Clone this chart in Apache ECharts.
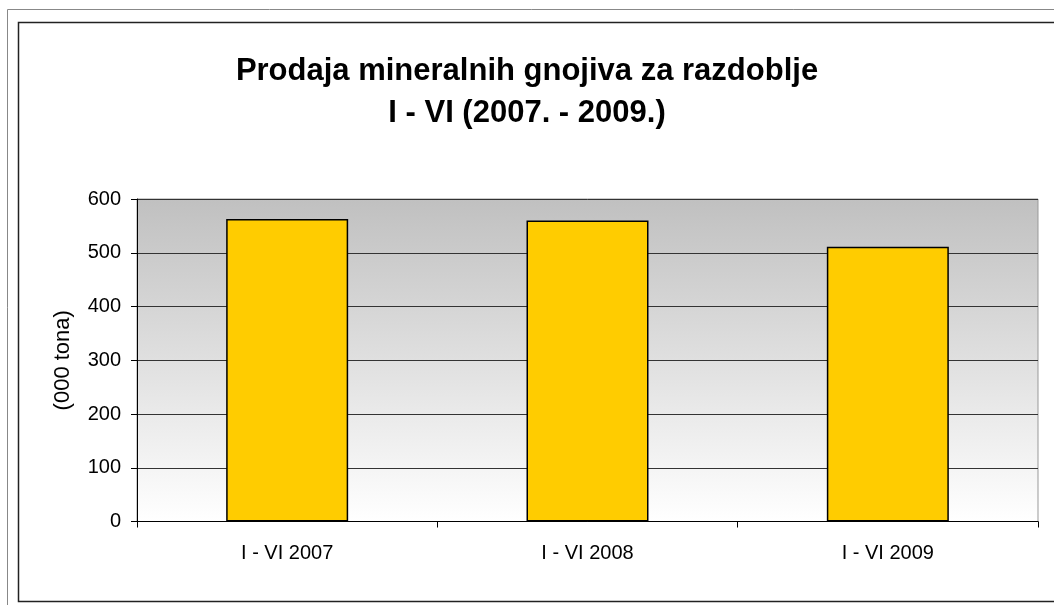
<!DOCTYPE html>
<html>
<head>
<meta charset="utf-8">
<script src="https://cdn.jsdelivr.net/npm/echarts@6/dist/echarts.min.js"></script>
<style>
html,body{margin:0;padding:0;background:#fff;}
#chart{width:1054px;height:605px;}
</style>
</head>
<body>
<div id="chart"></div>
<script>
// podaci
var categories = ['I - VI 2007', 'I - VI 2008', 'I - VI 2009'];
var values = [563, 560, 511];
var yTicks = [0, 100, 200, 300, 400, 500, 600];

var myChart = echarts.init(document.getElementById('chart'));

var option = {
	animation: false,
	title: {
		text: 'Prodaja mineralnih gnojiva za razdoblje\nI - VI (2007. - 2009.)',
		left: 'center',
		top: 45,
		textStyle: {
			fontFamily: 'Liberation Sans',
			fontWeight: 'bold',
			fontSize: 31,
			lineHeight: 42,
			color: '#000'
		}
	},
	graphic: [
		{ type: 'rect', shape: { x: 7.5, y: 9.5, width: 1100, height: 700 }, style: { fill: 'none', stroke: '#888', lineWidth: 1 }, silent: true },
		{ type: 'rect', shape: { x: 18.5, y: 22.5, width: 1100, height: 579 }, style: { fill: 'none', stroke: '#222', lineWidth: 1.5 }, silent: true }
	],
	grid: {
		left: 137,
		right: 16,
		top: 199,
		bottom: 83.5,
		show: true,
		borderColor: '#999',
		borderWidth: 1,
		backgroundColor: {
			type: 'linear', x: 0, y: 0, x2: 0, y2: 1,
			colorStops: [
				{ offset: 0, color: '#c0c0c0' },
				{ offset: 1, color: '#ffffff' }
			]
		}
	},
	xAxis: {
		type: 'category',
		data: categories,
		axisLine: { lineStyle: { color: '#000', width: 1 } },
		axisTick: { show: true, length: 6, lineStyle: { color: '#000' } },
		axisLabel: { color: '#000', fontSize: 20, fontFamily: 'Liberation Sans', margin: 22 }
	},
	yAxis: {
		type: 'value',
		min: yTicks[0],
		max: yTicks[yTicks.length - 1],
		interval: 100,
		name: '(000 tona)',
		nameLocation: 'middle',
		nameGap: 63,
		nameTextStyle: { color: '#000', fontSize: 22, fontFamily: 'Liberation Sans' },
		axisLine: { show: true, lineStyle: { color: '#000', width: 1 } },
		axisTick: { show: true, length: 6, lineStyle: { color: '#000' } },
		axisLabel: { color: '#000', fontSize: 20, fontFamily: 'Liberation Sans', margin: 16 },
		splitLine: { show: true, lineStyle: { color: '#333', width: 1 } }
	},
	series: [
		{
			type: 'bar',
			data: values,
			barWidth: 122,
			itemStyle: { color: '#ffcc00', borderColor: '#000', borderWidth: 1.5 }
		}
	]
};

myChart.setOption(option);
</script>
</body>
</html>
